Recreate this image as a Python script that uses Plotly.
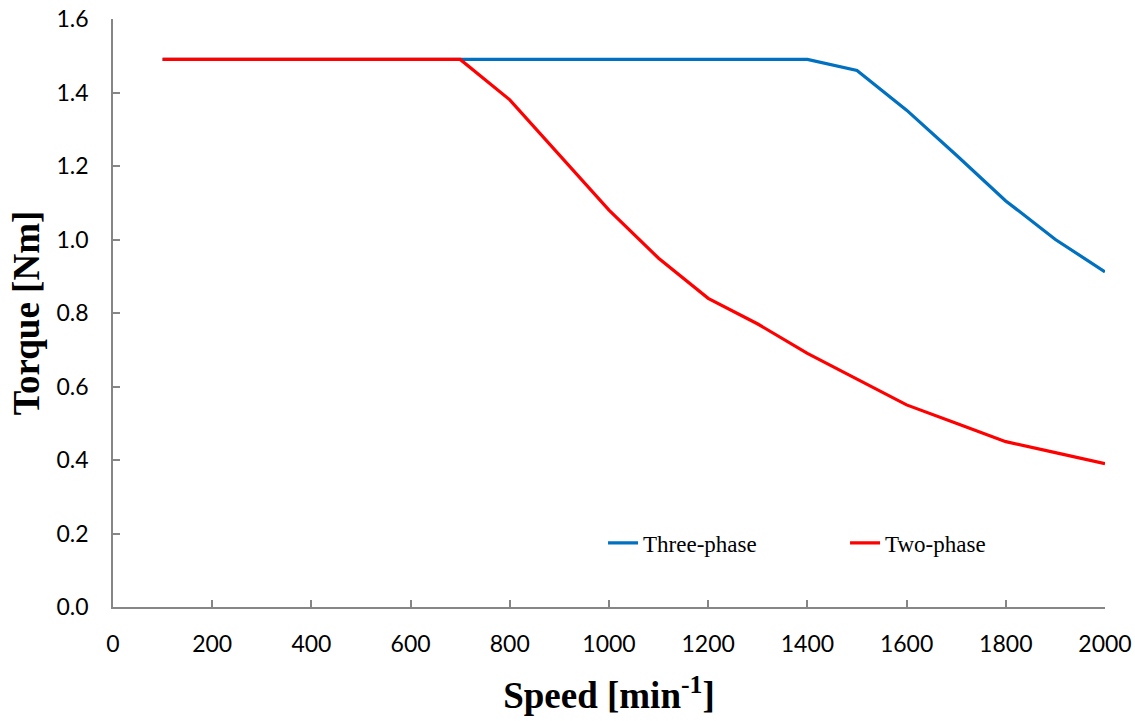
import plotly.graph_objects as go

speed = [100, 200, 300, 400, 500, 600, 700, 800, 900, 1000, 1100, 1200, 1300, 1400, 1500, 1600, 1700, 1800, 1900, 2000]
three_phase = [1.49, 1.49, 1.49, 1.49, 1.49, 1.49, 1.49, 1.49, 1.49, 1.49, 1.49, 1.49, 1.49, 1.49, 1.46, 1.352, 1.23, 1.105, 1.0, 0.912]
two_phase = [1.49, 1.49, 1.49, 1.49, 1.49, 1.49, 1.49, 1.38, 1.23, 1.08, 0.949, 0.84, 0.77, 0.69, 0.62, 0.55, 0.50, 0.45, 0.42, 0.39]

x_ticks = list(range(0, 2001, 200))
y_ticks = [0.0, 0.2, 0.4, 0.6, 0.8, 1.0, 1.2, 1.4, 1.6]

fig = go.Figure()
fig.add_trace(go.Scatter(x=speed, y=three_phase, mode="lines", name="Three-phase",
                         line=dict(color="#0070C0", width=3.2)))
fig.add_trace(go.Scatter(x=speed, y=two_phase, mode="lines", name="Two-phase",
                         line=dict(color="#FF0000", width=3.2)))

serif = "Liberation Serif, Times New Roman, serif"
axis_common = dict(showline=True, linecolor="#868686", linewidth=1.5, ticks="inside",
                   ticklen=7, tickcolor="#868686", tickwidth=1.5, showgrid=False,
                   zeroline=False, automargin=False,
                   tickfont=dict(family="Lato, Open Sans, sans-serif", size=23, color="black"))

fig.update_layout(
    width=1135, height=721,
    margin=dict(l=113, r=30, t=19, b=114),
    paper_bgcolor="white", plot_bgcolor="white",
    xaxis=dict(range=[0, 2000], tickvals=x_ticks, ticktext=[str(v) for v in x_ticks],
               ticklabelstandoff=16,
               title=dict(text="<b>Speed [min<sup>-1</sup>]</b>", standoff=26,
                          font=dict(family=serif, size=37, color="black")),
               **axis_common),
    yaxis=dict(range=[0, 1.6], tickvals=y_ticks, ticktext=[f"{v:.1f}" for v in y_ticks],
               ticklabelstandoff=18,
               title=dict(text="<b>Torque [Nm]</b>", standoff=6,
                          font=dict(family=serif, size=37, color="black")),
               **axis_common),
    legend=dict(orientation="h", x=0.494, y=0.109, xanchor="left", yanchor="middle",
                entrywidth=197, entrywidthmode="pixels", itemwidth=30,
                font=dict(family=serif, size=23, color="black"),
                bgcolor="rgba(0,0,0,0)"),
    showlegend=True,
)

fig.write_html("out.html", config={"displayModeBar": False},
               post_script="document.body.style.margin='0';")
